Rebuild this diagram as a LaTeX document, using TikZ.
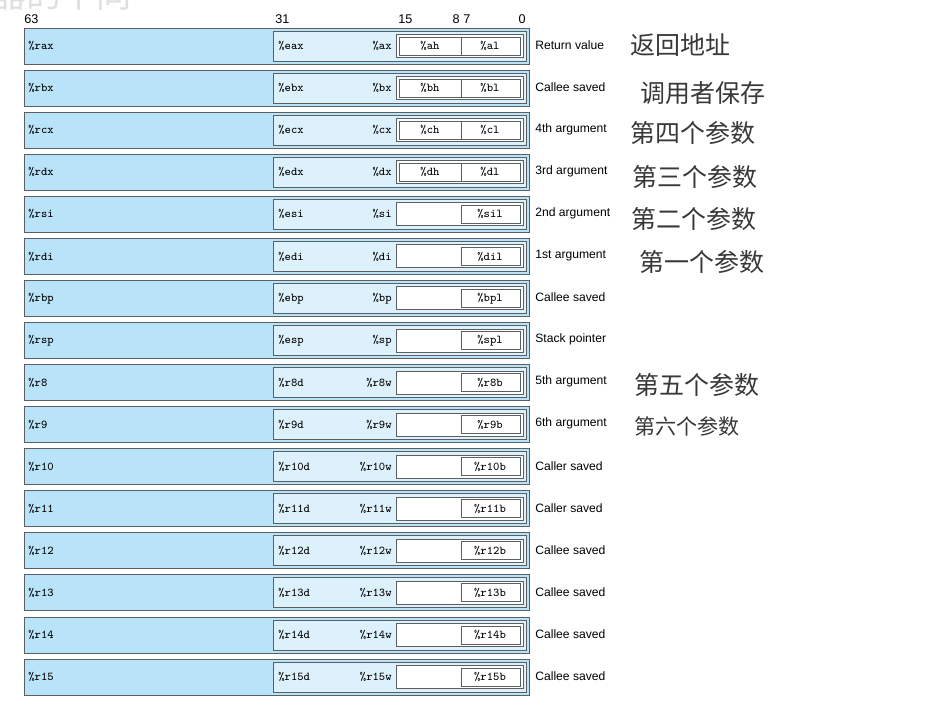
\documentclass[tikz,border=0pt]{standalone}
\usepackage{fontspec}
\newfontfamily\cjk{Noto Sans CJK SC}
\newfontfamily\arial{Liberation Sans}
\usetikzlibrary{positioning}
\definecolor{regq}{HTML}{B9E3F8}
\definecolor{regd}{HTML}{DDF1FC}
\definecolor{regline}{HTML}{5A5F62}
\definecolor{cntext}{HTML}{383838}

\begin{document}
\begin{tikzpicture}[x=0.02cm, y=-0.02cm,
    box/.style={draw=regline, line width=0.5pt},
    regname/.style={font=\fontsize{6.8}{8}\selectfont\ttfamily, inner sep=0pt},
    bitnum/.style={font=\arial\fontsize{7.2}{8}\selectfont, inner sep=0pt},
    usage/.style={font=\arial\fontsize{6.9}{8}\selectfont, inner sep=0pt, anchor=west},
    cnnote/.style={font=\cjk\fontsize{14.2}{16}\selectfont, text=cntext, inner sep=0pt, anchor=west}]
    \useasboundingbox (0,0) rectangle (926,700);

    % 被裁掉的标题
    \node[font=\cjk\fontsize{20}{22}\selectfont, text=gray!25, inner sep=0pt, anchor=base east] (title) at (132,7) {器的不同};

    % 位编号
    \node[bitnum, anchor=west] (b63) at (24,19) {63};
    \node[bitnum, anchor=west] (b31) at (275,19) {31};
    \node[bitnum, anchor=west] (b15) at (398,19) {15};
    \node[bitnum, anchor=east] (b8) at (460,19) {8};
    \node[bitnum, anchor=west] (b7) at (463,19) {7};
    \node[bitnum, anchor=east] (b0) at (526,19) {0};

    % 有高字节的寄存器
    \foreach \qn/\dn/\wn/\hbyte/\lbyte/\use [count=\i from 0] in {rax/eax/ax/ah/al/Return value, rbx/ebx/bx/bh/bl/Callee saved, rcx/ecx/cx/ch/cl/4th argument, rdx/edx/dx/dh/dl/3rd argument}{
        \pgfmathsetmacro\yc{46+42.07*\i}
        \draw[box, fill=regq] (24,\yc-18) rectangle (529,\yc+18);
        \draw[box, fill=regd] (273,\yc-15) rectangle (526,\yc+15);
        \draw[box, fill=white] (396,\yc-11.5) rectangle (523,\yc+11.5);
        \draw[box, fill=white] (399,\yc-9) rectangle (520,\yc+9);
        \draw[box] (461,\yc-9) -- (461,\yc+9);
        \node[regname, anchor=west] (q\i) at (28,\yc) {\%\qn};
        \node[regname, anchor=west] (d\i) at (278,\yc) {\%\dn};
        \node[regname, anchor=east] (w\i) at (392,\yc) {\%\wn};
        \node[regname] (h\i) at (430,\yc) {\%\hbyte};
        \node[regname] (l\i) at (490,\yc) {\%\lbyte};
        \node[usage] (u\i) at (535,\yc-1) {\use};
    }

    % 只有低字节的寄存器
    \foreach \qn/\dn/\wn/\lbyte/\use [count=\i from 4] in {rsi/esi/si/sil/2nd argument, rdi/edi/di/dil/1st argument, rbp/ebp/bp/bpl/Callee saved, rsp/esp/sp/spl/Stack pointer, r8/r8d/r8w/r8b/5th argument, r9/r9d/r9w/r9b/6th argument, r10/r10d/r10w/r10b/Caller saved, r11/r11d/r11w/r11b/Caller saved, r12/r12d/r12w/r12b/Callee saved, r13/r13d/r13w/r13b/Callee saved, r14/r14d/r14w/r14b/Callee saved, r15/r15d/r15w/r15b/Callee saved}{
        \pgfmathsetmacro\yc{46+42.07*\i}
        \draw[box, fill=regq] (24,\yc-18) rectangle (529,\yc+18);
        \draw[box, fill=regd] (273,\yc-15) rectangle (526,\yc+15);
        \draw[box, fill=white] (396,\yc-11.5) rectangle (523,\yc+11.5);
        \draw[box, fill=white] (461,\yc-9) rectangle (520,\yc+9);
        \node[regname, anchor=west] (q\i) at (28,\yc) {\%\qn};
        \node[regname, anchor=west] (d\i) at (278,\yc) {\%\dn};
        \node[regname, anchor=east] (w\i) at (392,\yc) {\%\wn};
        \node[regname] (l\i) at (490,\yc) {\%\lbyte};
        \node[usage] (u\i) at (535,\yc-1) {\use};
    }

    % 中文注释
    \node[cnnote] (cn0) at (630,45) {返回地址};
    \node[cnnote] (cn1) at (640,93) {调用者保存};
    \node[cnnote] (cn2) at (630,133) {第四个参数};
    \node[cnnote] (cn3) at (632,177) {第三个参数};
    \node[cnnote] (cn4) at (631,219) {第二个参数};
    \node[cnnote] (cn5) at (639,262) {第一个参数};
    \node[cnnote] (cn8) at (634,385) {第五个参数};
    \node[cnnote, font=\cjk\fontsize{12}{14}\selectfont] (cn9) at (634,426) {第六个参数};
\end{tikzpicture}
\end{document}
